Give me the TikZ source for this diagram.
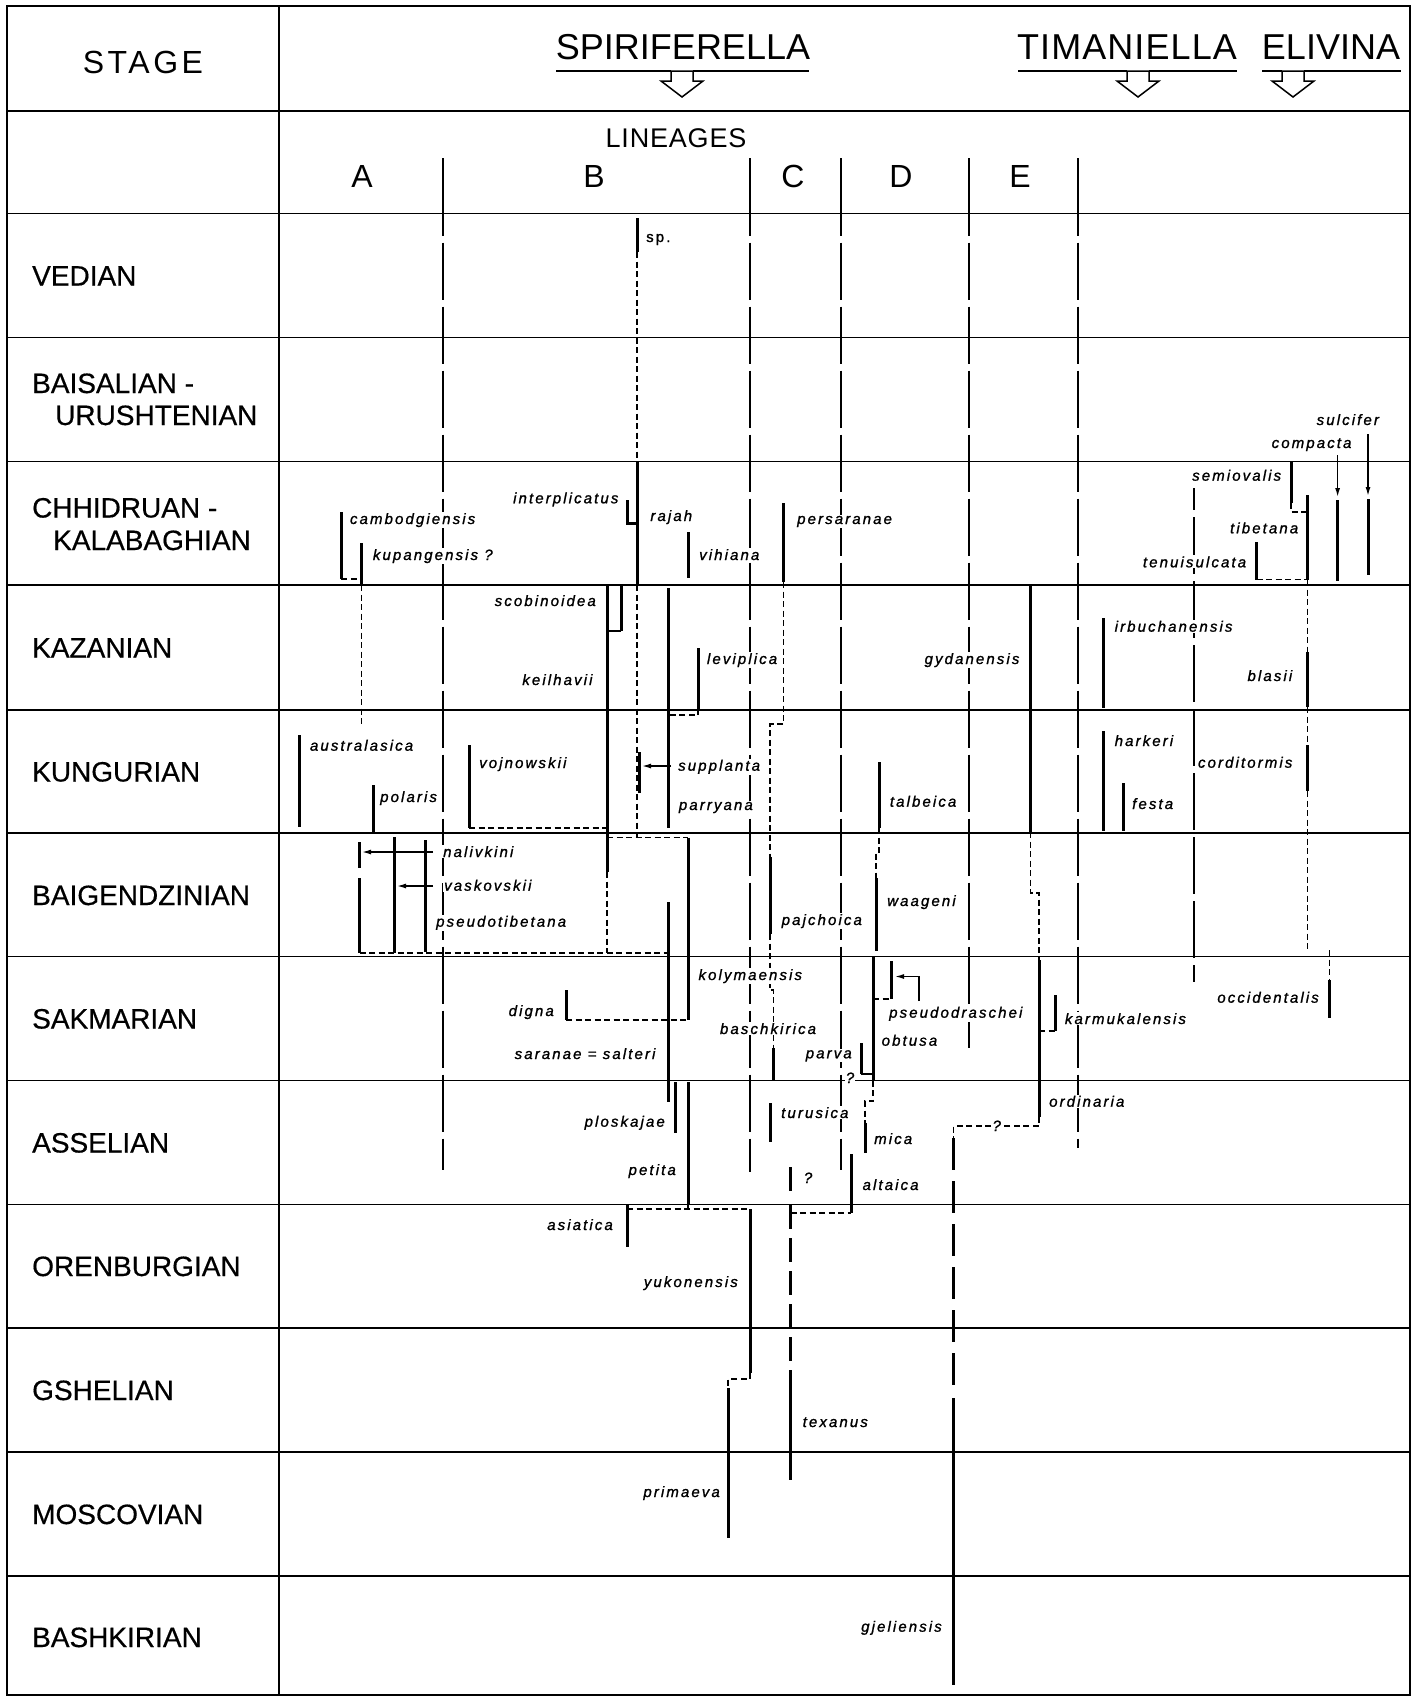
\documentclass[tikz,border=0pt]{standalone}
\usepackage{fontspec}
\setmainfont{Liberation Sans}
\newfontfamily\labfont[LetterSpace=14,FakeBold=1.2]{Liberation Sans}
\newfontfamily\stgfont[LetterSpace=11]{Liberation Sans}
\newfontfamily\linfont[LetterSpace=3]{Liberation Sans}
\newfontfamily\rowfont[FakeBold=0.5]{Liberation Sans}
\usetikzlibrary{arrows.meta}
\begin{document}
\begin{tikzpicture}[x=1pt,y=-1pt,
  gridl/.style={line width=1.8pt},
  divl/.style={line width=1.4pt, dash pattern=on 57pt off 7pt, dash phase=35pt},
  sbar/.style={line width=3pt},
  thinl/.style={line width=1.6pt},
  dsh/.style={line width=1.5pt, dash pattern=on 6pt off 3.5pt},
  tdsh/.style={line width=3pt, dash pattern=on 24pt off 9pt},
  arr/.style={line width=1.4pt, -{Latex[length=9pt,width=5pt]}},
  lab/.style={font=\labfont\itshape\fontsize{15}{18}\selectfont, inner sep=1pt, fill=white},
  labl/.style={lab, anchor=base west},
  labr/.style={lab, anchor=base east},
  labc/.style={lab, anchor=base},
  stgname/.style={font=\rowfont\fontsize{28}{32}\selectfont, anchor=base west, inner sep=0pt},
  ttl/.style={font=\fontsize{36}{40}\selectfont, anchor=base, inner sep=0pt},
  letr/.style={font=\fontsize{32}{36}\selectfont, anchor=base, inner sep=0pt},
  hol/.style={line width=1.5pt, fill=white, line join=miter},
  harrow/.pic={\draw[hol] (-11,0)--(11,0)--(11,10)--(21,10)--(0,26)--(-21,10)--(-11,10)--cycle;}
]
\useasboundingbox (0,0) rectangle (1418,1697);
% ---------- grid ----------
\draw[gridl] (7,6) rectangle (1410,1695);
\draw[gridl] (279,6) -- (279,1695);
\foreach \yy in {111,213.5,337.5,461.5,585,710,833,956.5,1080.5,1204.5,1328,1452,1576}
  \draw[gridl] (7,\yy) -- (1410,\yy);
% ---------- header ----------
\node[font=\stgfont\fontsize{32}{36}\selectfont, anchor=base, inner sep=0pt] (hstage) at (143,73) {STAGE};
\node[ttl] (hspi) at (683,59) {SPIRIFERELLA};
\node[ttl, font=\linfont\fontsize{36}{40}\selectfont] (htim) at (1127,59) {TIMANIELLA};
\node[ttl] (heli) at (1331,59) {ELIVINA};
\draw[thinl] (556,71) -- (671,71);
\draw[thinl] (693,71) -- (809,71);
\draw[thinl] (1018,71) -- (1127,71);
\draw[thinl] (1149,71) -- (1237,71);
\draw[thinl] (1262,71) -- (1282,71);
\draw[thinl] (1304,71) -- (1401,71);
\pic at (682,71) {harrow};
\pic at (1138,71) {harrow};
\pic at (1293,71) {harrow};
\node[font=\linfont\fontsize{27}{30}\selectfont, anchor=base, inner sep=0pt] (hlin) at (676,147) {LINEAGES};
\node[letr] (la) at (362,187) {A};
\node[letr] (lb) at (594,187) {B};
\node[letr] (lc) at (793,187) {C};
\node[letr] (ld) at (901,187) {D};
\node[letr] (le) at (1020,187) {E};
% ---------- lineage dividers ----------
\foreach \xx/\ye in {443/1170,750/1172,841/1170,969/1048,1078/1148}{
  \draw[line width=1.4pt] (\xx,158) -- (\xx,213.5);
  \draw[divl] (\xx,213.5) -- (\xx,\ye);
}
\draw[divl] (1194,488) -- (1194,982);
% ---------- stage names ----------
\node[stgname] (s1) at (32,285.5) {VEDIAN};
\node[stgname] (s2a) at (32,393) {BAISALIAN -};
\node[stgname] (s2b) at (55,425) {URUSHTENIAN};
\node[stgname] (s3a) at (32,517.5) {CHHIDRUAN -};
\node[stgname] (s3b) at (53,550) {KALABAGHIAN};
\node[stgname] (s4) at (32,657.5) {KAZANIAN};
\node[stgname] (s5) at (32,781.5) {KUNGURIAN};
\node[stgname] (s6) at (32,905) {BAIGENDZINIAN};
\node[stgname] (s7) at (32,1028.5) {SAKMARIAN};
\node[stgname] (s8) at (32,1152.5) {ASSELIAN};
\node[stgname] (s9) at (32,1276) {ORENBURGIAN};
\node[stgname] (s10) at (32,1400) {GSHELIAN};
\node[stgname] (s11) at (32,1524) {MOSCOVIAN};
\node[stgname] (s12) at (32,1647) {BASHKIRIAN};
% ---------- lineage A ----------
\draw[sbar] (341.4,512) -- (341.4,579);
\draw[dsh] (341.4,579) -- (361.4,579);
\draw[sbar] (361.4,543) -- (361.4,585);
\draw[dsh] (361.4,585) -- (361.4,727);
\draw[sbar] (299.6,735) -- (299.6,827);
\draw[sbar] (373.6,785) -- (373.6,833);
\draw[sbar] (469,745) -- (469,828);
\draw[dsh] (469,828) -- (607,828);
\draw[sbar] (359.5,842) -- (359.5,868);
\draw[sbar] (359.5,878) -- (359.5,953);
\draw[sbar] (394.3,837) -- (394.3,953);
\draw[sbar] (425.4,840) -- (425.4,952);
\draw[arr] (433,852) -- (362,852);
\draw[arr] (433,886) -- (397,886);
\draw[dsh] (359.5,953) -- (668,953);
% ---------- lineage B ----------
\draw[sbar] (637,218) -- (637,252);
\draw[dsh] (637,252) -- (637,461.5);
\draw[sbar] (637,461.5) -- (637,585);
\draw[sbar] (627,500) -- (627,523) -- (637,523);
\draw[sbar] (688,532) -- (688,578);
\draw[dsh] (637,585) -- (637,837.5);
\draw[sbar] (639,752) -- (639,793);
\draw[arr] (671,766) -- (642,766);
\draw[dsh] (607,837.5) -- (688,837.5);
\draw[sbar] (688,837.5) -- (688,1020);
\draw[sbar] (566,990) -- (566,1020);
\draw[dsh] (566,1020) -- (688,1020);
\draw[sbar] (621,586) -- (621,631);
\draw[thinl] (621,631) -- (607,631);
\draw[sbar] (607,585) -- (607,872);
\draw[dsh] (607,872) -- (607,953);
\draw[sbar] (668,588) -- (668,828);
\draw[sbar] (698,648) -- (698,709);
\draw[dsh] (698,709) -- (698,715) -- (668,715);
\draw[sbar] (668,902) -- (668,1102);
\draw[sbar] (675.7,1082) -- (675.7,1133);
\draw[sbar] (688,1082) -- (688,1205);
\draw[dsh] (688,1205) -- (688,1209);
\draw[sbar] (627,1205) -- (627,1247);
\draw[dsh] (627,1209) -- (750,1209);
\draw[sbar] (750,1209) -- (750,1373);
\draw[dsh] (750,1373) -- (750,1379) -- (728,1379) -- (728,1388);
\draw[sbar] (728,1388) -- (728,1538);
% ---------- lineage C ----------
\draw[sbar] (783.5,503) -- (783.5,582);
\draw[dsh] (783.5,582) -- (783.5,724) -- (770,724) -- (770,857);
\draw[sbar] (770,857) -- (770,934);
\draw[dsh] (770,934) -- (770,990) -- (773.5,990) -- (773.5,1048);
\draw[sbar] (773.5,1048) -- (773.5,1080.5);
\draw[sbar] (770,1103) -- (770,1142);
\draw[sbar] (790.5,1167) -- (790.5,1191);
\draw[tdsh] (790.5,1205) -- (790.5,1380);
\draw[sbar] (790.5,1380) -- (790.5,1480);
\draw[dsh] (790.5,1213) -- (851,1213);
\draw[sbar] (851,1154) -- (851,1213);
% ---------- lineage D ----------
\draw[sbar] (879,762) -- (879,828);
\draw[dsh] (879,828) -- (879,852) -- (876,852) -- (876,878);
\draw[sbar] (876,878) -- (876,951);
\draw[sbar] (873,957) -- (873,1080.5);
\draw[dsh] (873,1080.5) -- (873,1101) -- (865,1101) -- (865,1123);
\draw[sbar] (865,1123) -- (865,1153);
\draw[sbar] (891,961) -- (891,999);
\draw[dsh] (873,999) -- (891,999);
\draw[arr] (919,1001) -- (919,976.5) -- (895,976.5);
\draw[sbar] (861,1043) -- (861,1074);
\draw[thinl] (861,1074) -- (866,1074);
\draw[dsh] (866,1074) -- (873,1074);
% ---------- lineage E ----------
\draw[sbar] (1030.6,585) -- (1030.6,832);
\draw[dsh] (1030.6,832) -- (1030.6,893) -- (1039,893) -- (1039,960);
\draw[sbar] (1039,960) -- (1039,1117);
\draw[dsh] (1039,1117) -- (1039,1126) -- (953.5,1126) -- (953.5,1138);
\draw[sbar] (1055,995) -- (1055,1031);
\draw[dsh] (1039,1031) -- (1055,1031);
\draw[tdsh, dash pattern=on 32pt off 11pt] (953.5,1138) -- (953.5,1395);
\draw[sbar] (953.5,1398) -- (953.5,1685);
% ---------- Timaniella / Elivina ----------
\draw[sbar] (1103,618) -- (1103,708);
\draw[sbar] (1103.5,731) -- (1103.5,831);
\draw[sbar] (1123,783) -- (1123,831);
\draw[sbar] (1291,462) -- (1291,503);
\draw[dsh] (1291,503) -- (1291,512) -- (1306,512);
\draw[sbar] (1307.4,495) -- (1307.4,580);
\draw[sbar] (1256.5,542) -- (1256.5,580);
\draw[dsh] (1256.5,579.5) -- (1307.4,579.5);
\draw[dsh] (1307.4,580) -- (1307.4,652);
\draw[sbar] (1307.4,652) -- (1307.4,707);
\draw[dsh] (1307.4,707) -- (1307.4,745);
\draw[sbar] (1307.4,745) -- (1307.4,791);
\draw[dsh] (1307.4,791) -- (1307.4,950);
\draw[dsh] (1329.5,950) -- (1329.5,980);
\draw[sbar] (1329.5,980) -- (1329.5,1018);
\draw[arr] (1337.6,455) -- (1337.6,497);
\draw[sbar] (1337.6,500) -- (1337.6,581);
\draw[arr] (1368,434) -- (1368,496);
\draw[sbar] (1368,499) -- (1368,575);
% ---------- labels ----------
\node[labl] (n-sp) at (645,242) {\upshape sp.};
\node[labl] (n-camb) at (348.8,524) {cambodgiensis};
\node[labl] (n-kupa) at (371.7,560) {kupangensis ?};
\node[labr] (n-inte) at (619.6,503.3) {interplicatus};
\node[labl] (n-raja) at (649.2,521) {rajah};
\node[labl] (n-vihi) at (698,560) {vihiana};
\node[labl] (n-pers) at (796,524) {persaranae};
\node[labl] (n-sulc) at (1315.5,425) {sulcifer};
\node[labl] (n-comp) at (1270.5,448) {compacta};
\node[labl] (n-semi) at (1191,480.7) {semiovalis};
\node[labl] (n-tibe) at (1228.9,533.3) {tibetana};
\node[labr] (n-tenu) at (1247.3,567.3) {tenuisulcata};
\node[labr] (n-scob) at (597,606) {scobinoidea};
\node[labr] (n-keil) at (593.7,685) {keilhavii};
\node[labl] (n-levi) at (705.8,664) {leviplica};
\node[labr] (n-gyda) at (1020.6,664) {gydanensis};
\node[labl] (n-irbu) at (1113.5,631.7) {irbuchanensis};
\node[labr] (n-blas) at (1293.4,681) {blasii};
\node[labl] (n-aust) at (308.8,750.7) {australasica};
\node[labl] (n-pola) at (379,802) {polaris};
\node[labl] (n-vojn) at (478,768) {vojnowskii};
\node[labl] (n-supp) at (677,770.7) {supplanta};
\node[labl] (n-parr) at (677.7,810) {parryana};
\node[labl] (n-talb) at (888.7,806.7) {talbeica};
\node[labl] (n-hark) at (1113.5,746) {harkeri};
\node[labl] (n-cord) at (1196.8,767.7) {corditormis};
\node[labl] (n-fest) at (1131,809) {festa};
\node[labl] (n-nali) at (442,857) {nalivkini};
\node[labl] (n-vask) at (443,890.7) {vaskovskii};
\node[labl] (n-pstb) at (435,926.7) {pseudotibetana};
\node[labl] (n-pajc) at (780.5,925) {pajchoica};
\node[labl] (n-waag) at (886,906) {waageni};
\node[labl] (n-koly) at (697.3,980) {kolymaensis};
\node[labr] (n-dign) at (555,1016) {digna};
\node[labr] (n-sara) at (656.6,1059) {saranae = salteri};
\node[labl] (n-basc) at (718.8,1034) {baschkirica};
\node[labl] (n-parv) at (804.6,1058.3) {parva};
\node[labc] (n-q1) at (850,1083) {?};
\node[labl] (n-psdr) at (888,1017.7) {pseudodraschei};
\node[labl] (n-obtu) at (880.5,1045.7) {obtusa};
\node[labl] (n-karm) at (1063.7,1024) {karmukalensis};
\node[labr] (n-occi) at (1320,1002.7) {occidentalis};
\node[labr] (n-plos) at (666,1126.7) {ploskajae};
\node[labr] (n-peti) at (677,1175) {petita};
\node[labl] (n-turu) at (780,1118) {turusica};
\node[labl] (n-q2) at (802.7,1183) {?};
\node[labl] (n-mica) at (873,1144) {mica};
\node[labl] (n-alta) at (861.4,1190) {altaica};
\node[labl] (n-ordi) at (1048,1106.7) {ordinaria};
\node[labc] (n-q3) at (996.7,1131) {?};
\node[labr] (n-asia) at (614,1230) {asiatica};
\node[labr] (n-yuko) at (739,1287) {yukonensis};
\node[labl] (n-texa) at (801.5,1427) {texanus};
\node[labr] (n-prim) at (721,1497) {primaeva};
\node[labr] (n-gjel) at (943,1631.7) {gjeliensis};
\end{tikzpicture}
\end{document}
